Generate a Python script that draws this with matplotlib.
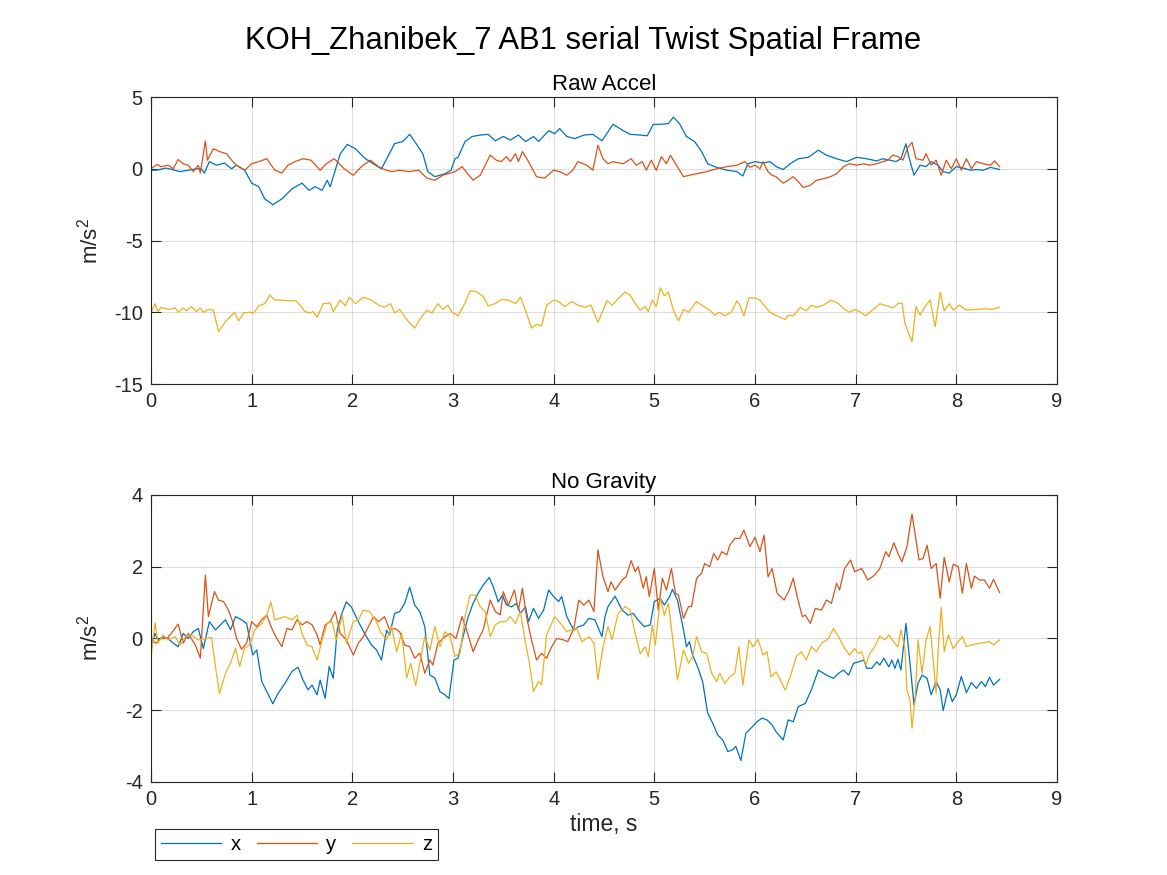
import numpy as np
import matplotlib
matplotlib.use('Agg')
import matplotlib.pyplot as plt

plt.rcParams['font.family'] = ['Liberation Sans', 'DejaVu Sans']
plt.rcParams['mathtext.fontset'] = 'custom'
plt.rcParams['mathtext.rm'] = 'Liberation Sans'
plt.rcParams['mathtext.default'] = 'regular'
plt.rcParams['axes.unicode_minus'] = False

# datos: (tiempo s, valor m/s^2)
raw_x = [(0.00, -0.10), (0.05, -0.10), (0.15, 0.05), (0.29, -0.20), (0.45, 0.00), (0.50, 0.00), (0.53, -0.30),
         (0.58, 0.50), (0.65, 0.25), (0.73, 0.40), (0.80, 0.00), (0.85, 0.25), (0.93, -0.10), (1.00, -1.00),
         (1.07, -1.25), (1.13, -2.10), (1.21, -2.50), (1.30, -2.10), (1.40, -1.40), (1.50, -1.00), (1.57, -1.50),
         (1.63, -1.25), (1.70, -1.50), (1.75, -0.80), (1.78, -1.25), (1.83, -0.10), (1.88, 1.05), (1.95, 1.70),
         (2.03, 1.40), (2.13, 0.70), (2.23, 0.25), (2.29, 0.00), (2.36, 0.95), (2.42, 1.75), (2.50, 1.90),
         (2.57, 2.40), (2.62, 1.90), (2.70, 1.05), (2.75, -0.20), (2.82, -0.55), (2.92, -0.35), (2.98, -0.10),
         (3.02, 0.70), (3.05, 0.80), (3.12, 1.90), (3.19, 2.25), (3.27, 2.35), (3.35, 2.40), (3.42, 1.95),
         (3.50, 2.25), (3.57, 2.00), (3.65, 2.35), (3.72, 1.90), (3.80, 2.25), (3.85, 1.90), (3.95, 2.65),
         (4.01, 2.45), (4.06, 2.80), (4.13, 2.25), (4.21, 2.10), (4.30, 2.35), (4.39, 2.40), (4.48, 1.95),
         (4.59, 3.10), (4.68, 2.70), (4.76, 2.40), (4.86, 2.35), (4.93, 2.30), (4.99, 3.10), (5.07, 3.10),
         (5.14, 3.15), (5.19, 3.60), (5.25, 3.15), (5.32, 2.25), (5.40, 1.90), (5.47, 1.20), (5.53, 0.35),
         (5.62, 0.10), (5.72, -0.10), (5.82, -0.20), (5.88, -0.50), (5.93, 0.35), (6.00, 0.50), (6.08, 0.40),
         (6.15, 0.50), (6.21, 0.15), (6.28, -0.05), (6.35, 0.35), (6.43, 0.70), (6.53, 0.80), (6.63, 1.30),
         (6.71, 0.95), (6.81, 0.70), (6.91, 0.50), (7.01, 0.80), (7.11, 0.70), (7.21, 0.55), (7.27, 0.70),
         (7.34, 0.60), (7.40, 0.50), (7.45, 0.70), (7.50, 1.75), (7.53, 0.80), (7.58, -0.45), (7.64, 0.25),
         (7.70, 0.15), (7.75, 0.50), (7.82, 0.25), (7.87, -0.20), (7.93, -0.30), (8.00, 0.15), (8.07, 0.05),
         (8.14, -0.10), (8.20, -0.05), (8.27, -0.10), (8.34, 0.10), (8.43, -0.05)]

raw_y = [(0.00, 0.00), (0.06, 0.30), (0.10, 0.15), (0.17, 0.25), (0.22, 0.00), (0.27, 0.65), (0.32, 0.35),
         (0.37, 0.25), (0.42, -0.20), (0.47, 0.25), (0.49, -0.30), (0.54, 1.95), (0.56, 0.60), (0.62, 1.40),
         (0.68, 1.20), (0.75, 1.05), (0.80, 0.60), (0.85, 0.25), (0.93, -0.10), (1.00, 0.35), (1.07, 0.50),
         (1.15, 0.70), (1.23, -0.10), (1.30, -0.30), (1.36, 0.25), (1.43, 0.50), (1.51, 0.70), (1.59, 0.60),
         (1.68, -0.10), (1.74, 0.35), (1.82, 0.70), (1.92, 0.00), (2.01, -0.45), (2.09, 0.15), (2.18, 0.60),
         (2.26, 0.15), (2.32, -0.05), (2.39, -0.20), (2.47, -0.10), (2.56, -0.20), (2.66, -0.10), (2.74, -0.65),
         (2.82, -0.80), (2.90, -0.45), (2.97, -0.30), (3.02, -0.20), (3.09, 0.15), (3.14, -0.30), (3.20, -0.80),
         (3.27, -0.45), (3.37, 0.95), (3.43, 0.60), (3.48, 0.50), (3.53, 0.85), (3.57, 0.50), (3.62, 1.05),
         (3.65, 0.50), (3.69, 1.20), (3.75, 0.50), (3.83, -0.55), (3.91, -0.65), (4.00, -0.10), (4.06, -0.20),
         (4.13, -0.45), (4.19, -0.10), (4.24, 0.50), (4.33, 0.25), (4.39, -0.10), (4.44, 1.65), (4.49, 0.70),
         (4.54, 0.35), (4.59, 0.50), (4.69, 0.35), (4.77, 0.70), (4.82, 0.25), (4.88, 0.50), (4.92, -0.10),
         (4.97, 0.60), (5.02, -0.10), (5.07, 0.85), (5.12, 0.35), (5.16, 0.95), (5.22, 0.25), (5.29, -0.55),
         (5.35, -0.45), (5.42, -0.35), (5.52, -0.20), (5.62, 0.00), (5.72, 0.15), (5.82, 0.25), (5.90, 0.50),
         (5.95, 0.10), (6.00, 0.25), (6.05, 0.00), (6.08, 0.50), (6.13, -0.20), (6.17, -0.45), (6.21, -0.55),
         (6.28, -1.00), (6.33, -0.80), (6.38, -0.55), (6.43, -0.90), (6.48, -1.30), (6.55, -1.15), (6.61, -0.80),
         (6.68, -0.70), (6.75, -0.55), (6.81, -0.35), (6.88, 0.15), (6.94, 0.35), (7.01, 0.25), (7.08, 0.35),
         (7.14, 0.25), (7.21, 0.35), (7.27, 0.50), (7.32, 0.60), (7.37, 0.95), (7.42, 0.85), (7.47, 0.60),
         (7.52, 1.50), (7.56, 1.85), (7.60, 0.70), (7.67, 0.60), (7.70, 1.05), (7.75, 0.25), (7.80, 0.60),
         (7.85, -0.45), (7.90, 0.60), (7.95, 0.00), (8.00, 0.70), (8.05, -0.10), (8.10, 0.70), (8.15, 0.00),
         (8.20, 0.50), (8.27, 0.35), (8.34, 0.25), (8.38, 0.55), (8.43, 0.15)]

raw_z = [(0.00, -10.05), (0.04, -9.40), (0.07, -9.95), (0.10, -9.65), (0.17, -9.80), (0.24, -9.70), (0.27, -10.00),
         (0.32, -9.70), (0.35, -9.90), (0.40, -9.60), (0.45, -9.95), (0.49, -9.70), (0.52, -10.00), (0.57, -9.80),
         (0.62, -9.85), (0.67, -11.35), (0.74, -10.65), (0.78, -10.35), (0.83, -10.00), (0.87, -10.60),
         (0.92, -10.05), (0.98, -10.00), (1.02, -10.05), (1.07, -9.55), (1.13, -9.40), (1.18, -8.80),
         (1.23, -9.15), (1.29, -9.15), (1.36, -9.20), (1.44, -9.20), (1.48, -9.50), (1.53, -9.95), (1.58, -10.05),
         (1.61, -9.95), (1.65, -10.35), (1.71, -9.40), (1.78, -9.35), (1.81, -9.95), (1.88, -9.15), (1.93, -9.55),
         (1.97, -8.95), (2.03, -9.40), (2.11, -8.95), (2.19, -9.15), (2.26, -9.50), (2.32, -9.65), (2.38, -9.40),
         (2.42, -10.05), (2.47, -9.80), (2.52, -10.30), (2.57, -10.75), (2.62, -11.10), (2.67, -10.50),
         (2.74, -9.85), (2.79, -10.05), (2.85, -9.40), (2.90, -9.80), (2.95, -9.50), (2.99, -10.00), (3.05, -10.25),
         (3.12, -9.35), (3.17, -8.50), (3.23, -8.55), (3.30, -8.90), (3.35, -9.55), (3.42, -9.40), (3.48, -9.10),
         (3.55, -9.15), (3.62, -9.40), (3.67, -8.95), (3.73, -10.05), (3.78, -11.10), (3.83, -10.85),
         (3.88, -10.95), (3.93, -9.50), (4.00, -9.15), (4.05, -9.25), (4.11, -9.60), (4.18, -9.25), (4.24, -9.50),
         (4.31, -9.65), (4.37, -9.50), (4.44, -10.70), (4.53, -9.20), (4.58, -9.50), (4.65, -9.00), (4.71, -8.60),
         (4.76, -8.80), (4.81, -9.40), (4.86, -9.85), (4.91, -9.60), (4.94, -9.95), (4.98, -9.15), (5.02, -9.60),
         (5.06, -8.30), (5.10, -8.85), (5.14, -8.60), (5.19, -9.85), (5.24, -10.60), (5.29, -9.80), (5.34, -10.00),
         (5.42, -9.25), (5.48, -9.55), (5.55, -9.85), (5.60, -10.20), (5.65, -10.00), (5.70, -10.25),
         (5.77, -9.95), (5.82, -9.20), (5.85, -9.50), (5.89, -10.25), (5.94, -9.00), (6.00, -9.00), (6.05, -9.15),
         (6.10, -9.60), (6.15, -10.00), (6.20, -10.20), (6.25, -10.35), (6.30, -10.50), (6.33, -10.20),
         (6.38, -10.25), (6.45, -9.65), (6.51, -9.90), (6.56, -9.50), (6.61, -9.65), (6.68, -9.50), (6.76, -9.15),
         (6.83, -9.40), (6.89, -9.80), (6.94, -10.00), (6.99, -9.80), (7.04, -9.95), (7.10, -10.25), (7.16, -9.90),
         (7.24, -9.40), (7.31, -9.55), (7.37, -9.70), (7.42, -9.40), (7.46, -9.35), (7.49, -10.75), (7.52, -11.35),
         (7.56, -12.05), (7.60, -9.60), (7.64, -10.20), (7.69, -9.60), (7.74, -9.15), (7.79, -11.00),
         (7.84, -8.60), (7.88, -9.90), (7.93, -9.40), (7.97, -9.85), (8.03, -9.50), (8.10, -9.85), (8.20, -9.80),
         (8.30, -9.75), (8.35, -9.80), (8.43, -9.65)]

ng_x = [(0.00, -0.23), (0.04, 0.14), (0.07, -0.04), (0.12, 0.05), (0.17, 0.00), (0.22, -0.13), (0.27, -0.23),
        (0.32, 0.14), (0.37, 0.00), (0.42, 0.19), (0.47, 0.28), (0.52, -0.28), (0.58, 0.47), (0.64, 0.24),
        (0.69, 0.38), (0.74, 0.52), (0.79, 0.24), (0.84, 0.61), (0.90, 0.52), (0.95, 0.42), (1.01, -0.46),
        (1.05, -0.32), (1.10, -1.20), (1.15, -1.48), (1.21, -1.82), (1.26, -1.54), (1.33, -1.25), (1.40, -0.92),
        (1.46, -0.80), (1.51, -1.16), (1.56, -1.43), (1.60, -1.30), (1.65, -1.57), (1.68, -1.16), (1.73, -1.67),
        (1.77, -0.78), (1.81, -1.11), (1.85, 0.24), (1.89, 0.65), (1.94, 1.02), (1.99, 0.88), (2.06, 0.47),
        (2.13, 0.10), (2.19, -0.18), (2.24, -0.32), (2.29, -0.60), (2.34, 0.23), (2.37, 0.10), (2.42, 0.70),
        (2.47, 0.75), (2.52, 0.98), (2.57, 1.43), (2.62, 0.93), (2.67, 0.75), (2.72, 0.33), (2.77, -1.02),
        (2.82, -1.10), (2.87, -1.48), (2.92, -1.57), (2.96, -1.67), (3.01, -0.60), (3.05, -0.55), (3.10, 0.05),
        (3.15, 0.60), (3.20, 0.98), (3.25, 1.26), (3.30, 1.49), (3.36, 1.70), (3.40, 1.44), (3.45, 1.02),
        (3.49, 1.21), (3.53, 0.94), (3.58, 0.88), (3.63, 0.98), (3.67, 0.70), (3.72, 0.88), (3.75, 0.47),
        (3.80, 0.84), (3.85, 0.56), (3.90, 0.79), (3.95, 1.35), (4.00, 1.17), (4.05, 1.03), (4.08, 1.17),
        (4.13, 0.61), (4.20, 0.23), (4.25, 0.33), (4.30, 0.38), (4.35, 0.56), (4.41, 0.52), (4.48, 0.05),
        (4.51, 0.61), (4.54, 0.89), (4.61, 1.18), (4.68, 0.79), (4.74, 0.65), (4.79, 0.70), (4.84, 0.51),
        (4.90, 0.33), (4.96, 0.38), (5.00, 1.03), (5.06, 1.12), (5.10, 0.93), (5.15, 1.16), (5.18, 1.37),
        (5.23, 1.07), (5.29, 0.24), (5.32, -0.23), (5.35, -0.09), (5.38, -0.46), (5.43, -0.79), (5.48, -1.20),
        (5.53, -2.08), (5.58, -2.36), (5.63, -2.69), (5.68, -2.83), (5.73, -3.15), (5.78, -3.10), (5.81, -3.01),
        (5.86, -3.40), (5.91, -2.64), (5.96, -2.50), (6.02, -2.32), (6.07, -2.22), (6.12, -2.27), (6.17, -2.41),
        (6.21, -2.60), (6.28, -2.83), (6.33, -2.27), (6.38, -2.32), (6.43, -1.90), (6.50, -1.81), (6.56, -1.43),
        (6.63, -0.88), (6.71, -1.02), (6.78, -1.11), (6.83, -0.97), (6.88, -0.88), (6.93, -1.02), (6.98, -0.69),
        (7.03, -0.65), (7.08, -0.60), (7.11, -0.83), (7.16, -0.83), (7.21, -0.65), (7.24, -0.74), (7.28, -0.55),
        (7.33, -0.79), (7.36, -0.60), (7.39, -0.83), (7.42, -0.58), (7.45, -0.88), (7.50, 0.42), (7.54, -0.69),
        (7.58, -1.85), (7.62, -1.25), (7.66, -1.02), (7.71, -1.11), (7.75, -1.57), (7.80, -1.20), (7.84, -1.43),
        (7.87, -2.01), (7.92, -1.39), (7.96, -1.76), (8.00, -1.57), (8.05, -1.06), (8.10, -1.51), (8.15, -1.23),
        (8.20, -1.39), (8.25, -1.20), (8.29, -1.34), (8.33, -1.08), (8.37, -1.30), (8.43, -1.14)]

ng_y = [(0.00, -0.04), (0.05, -0.13), (0.10, 0.00), (0.16, 0.00), (0.20, 0.14), (0.27, 0.40), (0.32, -0.13),
        (0.37, 0.14), (0.44, -0.18), (0.49, -0.55), (0.54, 1.77), (0.57, 0.61), (0.63, 1.31), (0.67, 1.07),
        (0.72, 1.03), (0.77, 0.79), (0.81, 0.47), (0.85, 0.00), (0.90, -0.30), (0.95, -0.13), (1.00, 0.47),
        (1.05, 0.33), (1.10, 0.52), (1.15, 0.65), (1.20, 0.28), (1.25, 0.00), (1.30, -0.23), (1.35, 0.28),
        (1.40, 0.24), (1.45, 0.52), (1.50, 0.38), (1.55, 0.47), (1.60, 0.38), (1.65, 0.10), (1.68, -0.18),
        (1.73, 0.38), (1.78, 0.47), (1.83, 0.75), (1.88, 0.14), (1.94, -0.04), (2.01, -0.46), (2.06, -0.13),
        (2.11, 0.05), (2.16, 0.33), (2.21, 0.61), (2.26, 0.47), (2.32, 0.61), (2.37, 0.24), (2.42, 0.28),
        (2.47, 0.19), (2.52, -0.18), (2.57, -0.23), (2.62, -0.55), (2.67, -0.41), (2.72, -0.97), (2.77, -0.60),
        (2.80, -0.74), (2.85, -0.13), (2.92, 0.05), (2.97, 0.14), (3.03, 0.00), (3.09, 0.61), (3.13, 0.28),
        (3.20, -0.37), (3.25, -0.04), (3.30, 0.24), (3.37, 1.07), (3.42, 0.75), (3.47, 0.66), (3.50, 1.30),
        (3.55, 0.93), (3.61, 1.35), (3.65, 0.79), (3.69, 1.40), (3.73, 0.61), (3.78, -0.04), (3.83, -0.60),
        (3.88, -0.41), (3.93, -0.55), (3.98, -0.23), (4.03, 0.00), (4.10, -0.04), (4.14, -0.09), (4.20, 0.28),
        (4.25, 1.07), (4.30, 0.93), (4.35, 1.07), (4.40, 0.75), (4.44, 2.47), (4.49, 1.72), (4.54, 1.31),
        (4.57, 1.58), (4.61, 1.35), (4.68, 1.63), (4.72, 1.72), (4.77, 2.17), (4.81, 1.86), (4.84, 2.00),
        (4.89, 1.40), (4.92, 1.72), (4.95, 1.17), (5.00, 1.95), (5.04, 0.79), (5.08, 1.68), (5.12, 1.35),
        (5.17, 1.95), (5.21, 1.26), (5.24, 1.21), (5.29, 0.56), (5.34, 0.89), (5.37, 0.89), (5.42, 1.68),
        (5.47, 1.82), (5.50, 2.09), (5.55, 2.00), (5.59, 2.37), (5.63, 2.19), (5.67, 2.42), (5.72, 2.33),
        (5.75, 2.60), (5.80, 2.79), (5.85, 2.79), (5.89, 3.02), (5.95, 2.56), (6.00, 2.82), (6.05, 2.42),
        (6.09, 2.88), (6.13, 1.72), (6.17, 1.95), (6.22, 1.26), (6.29, 1.07), (6.34, 1.35), (6.38, 1.68),
        (6.42, 1.16), (6.47, 0.61), (6.50, 0.65), (6.55, 0.42), (6.60, 0.84), (6.66, 0.79), (6.71, 1.07),
        (6.76, 0.98), (6.81, 1.54), (6.84, 1.35), (6.89, 1.95), (6.95, 2.19), (6.99, 1.86), (7.06, 1.95),
        (7.12, 1.63), (7.19, 1.77), (7.24, 1.95), (7.30, 2.42), (7.33, 2.28), (7.38, 2.67), (7.42, 2.37),
        (7.46, 2.14), (7.51, 2.56), (7.56, 3.47), (7.60, 2.74), (7.63, 2.19), (7.67, 2.23), (7.71, 2.60),
        (7.75, 1.95), (7.80, 2.09), (7.84, 1.12), (7.88, 2.26), (7.93, 1.58), (7.97, 2.07), (8.02, 2.00),
        (8.06, 1.26), (8.10, 2.09), (8.15, 1.40), (8.18, 1.74), (8.23, 1.63), (8.28, 1.63), (8.33, 1.40),
        (8.37, 1.65), (8.43, 1.28)]

ng_z = [(0.00, -0.50), (0.04, 0.44), (0.07, -0.13), (0.12, 0.10), (0.17, -0.04), (0.24, 0.05), (0.29, -0.18),
        (0.34, 0.05), (0.40, 0.10), (0.47, -0.04), (0.54, 0.00), (0.60, 0.03), (0.64, -0.78), (0.68, -1.53),
        (0.74, -0.97), (0.79, -0.69), (0.84, -0.27), (0.88, -0.78), (0.93, -0.27), (0.98, -0.18), (1.03, 0.24),
        (1.10, 0.42), (1.15, 0.65), (1.19, 1.02), (1.23, 0.52), (1.28, 0.56), (1.33, 0.61), (1.40, 0.52),
        (1.45, 0.65), (1.50, 0.14), (1.55, -0.18), (1.60, -0.23), (1.65, -0.60), (1.70, -0.04), (1.75, 0.42),
        (1.80, 0.47), (1.84, -0.04), (1.90, 0.65), (1.94, -0.13), (2.01, 0.47), (2.06, 0.52), (2.11, 0.79),
        (2.17, 0.75), (2.23, 0.52), (2.28, 0.19), (2.34, -0.04), (2.39, 0.33), (2.44, -0.37), (2.49, 0.14),
        (2.54, -1.10), (2.58, -0.69), (2.63, -1.32), (2.67, -0.69), (2.72, 0.05), (2.77, -0.32), (2.82, 0.33),
        (2.87, -0.23), (2.92, 0.19), (2.97, 0.05), (3.02, -0.50), (3.07, -0.41), (3.12, 0.61), (3.17, 1.21),
        (3.22, 1.21), (3.27, 0.89), (3.32, 0.75), (3.37, 0.05), (3.42, 0.38), (3.47, 0.47), (3.52, 0.47),
        (3.57, 0.61), (3.62, 0.42), (3.67, 0.75), (3.72, -0.13), (3.76, -0.69), (3.80, -1.48), (3.85, -1.20),
        (3.88, -1.30), (3.93, 0.10), (4.01, 0.61), (4.08, 0.38), (4.13, 0.19), (4.18, 0.24), (4.23, 0.28),
        (4.28, -0.09), (4.35, 0.05), (4.40, -0.13), (4.44, -1.15), (4.49, -0.23), (4.54, 0.33), (4.58, -0.04),
        (4.64, 0.70), (4.71, 0.89), (4.76, 0.79), (4.81, 0.14), (4.86, -0.42), (4.91, -0.23), (4.94, -0.51),
        (4.98, 0.37), (5.01, -0.18), (5.06, 1.12), (5.10, 0.65), (5.14, 0.98), (5.18, 0.05), (5.23, -1.16),
        (5.29, -0.32), (5.34, -0.69), (5.38, -0.51), (5.42, 0.05), (5.47, -0.37), (5.52, -0.41), (5.57, -0.97),
        (5.62, -1.20), (5.65, -0.97), (5.70, -1.25), (5.75, -1.07), (5.80, -0.97), (5.84, -0.23), (5.88, -1.30),
        (5.94, -0.04), (5.98, -0.23), (6.03, -0.02), (6.08, -0.46), (6.12, -0.37), (6.16, -1.07), (6.21, -0.93),
        (6.26, -1.20), (6.30, -1.44), (6.35, -1.07), (6.41, -0.51), (6.46, -0.37), (6.51, -0.60), (6.56, -0.23),
        (6.61, -0.37), (6.66, -0.14), (6.73, 0.00), (6.78, 0.28), (6.83, 0.05), (6.88, -0.23), (6.94, -0.46),
        (6.99, -0.28), (7.03, -0.42), (7.06, -0.37), (7.10, -0.74), (7.14, -0.42), (7.19, -0.23), (7.24, 0.07),
        (7.29, -0.04), (7.33, 0.10), (7.39, -0.14), (7.42, -0.23), (7.45, 0.24), (7.49, -0.28), (7.51, -1.44),
        (7.54, -1.71), (7.56, -2.50), (7.59, -1.71), (7.62, -0.04), (7.66, -0.97), (7.70, -0.04), (7.74, 0.33),
        (7.77, -0.60), (7.80, -1.53), (7.82, -0.32), (7.85, 0.87), (7.88, -0.37), (7.92, 0.10), (7.97, -0.28),
        (8.02, -0.09), (8.06, 0.05), (8.10, -0.23), (8.15, -0.18), (8.20, -0.15), (8.27, -0.12), (8.33, -0.09),
        (8.37, -0.18), (8.43, -0.04)]

series_names = ['x', 'y', 'z']
colores = [(0, 0.447, 0.741), (0.850, 0.325, 0.098), (0.929, 0.694, 0.125)]
eje_color = (0.15, 0.15, 0.15)

fig = plt.figure(figsize=(11.67, 8.75), dpi=100)
ax1 = fig.add_axes([0.1294, 0.5611, 0.7763, 0.3280])
ax2 = fig.add_axes([0.1294, 0.1063, 0.7763, 0.3280])


def estilo(ax, titulo, ylim, yticks):
    ax.set_xlim(0, 9)
    ax.set_ylim(*ylim)
    ax.set_xticks(np.arange(0, 10, 1))
    ax.set_yticks(yticks)
    ax.grid(True, color=(0.15, 0.15, 0.15), alpha=0.15, linewidth=0.8)
    ax.set_axisbelow(True)
    ax.tick_params(direction='in', top=True, right=True, length=7, width=0.8,
                   labelsize=14.5, colors=eje_color, pad=6)
    for s in ax.spines.values():
        s.set_color(eje_color)
        s.set_linewidth(0.8)
    ax.set_title(titulo, fontsize=16, color='black', pad=5)
    ax.set_ylabel('m/s$^2$', fontsize=16, color=eje_color)
    # borde derecho de la etiqueta a ~103 px, como en el original
    ax.yaxis.set_label_coords(-0.053, 0.5)


lineas = []
for datos, c in zip([raw_x, raw_y, raw_z], colores):
    t, v = np.array(datos).T
    ax1.plot(t, v, color=c, linewidth=0.9)
for datos, c in zip([ng_x, ng_y, ng_z], colores):
    t, v = np.array(datos).T
    l, = ax2.plot(t, v, color=c, linewidth=0.9)
    lineas.append(l)

estilo(ax1, 'Raw Accel', (-15, 5), [-15, -10, -5, 0, 5])
estilo(ax2, 'No Gravity', (-4, 4), [-4, -2, 0, 2, 4])
ax2.set_xlabel('time, s', fontsize=16.5, color=eje_color, labelpad=3)

fig.suptitle('KOH_Zhanibek_7 AB1 serial Twist Spatial Frame', fontsize=22.3, y=0.97)

leg = fig.legend(lineas, series_names, ncol=3, loc='upper left',
                 bbox_to_anchor=(155 / 1167, 1 - 829 / 875), fontsize=14.5,
                 fancybox=False, framealpha=1, edgecolor=eje_color,
                 handlelength=3.0, handletextpad=0.45, columnspacing=0.8,
                 borderpad=0.3, borderaxespad=0)
leg.get_frame().set_linewidth(0.8)

fig.savefig('out.png', dpi=100)
